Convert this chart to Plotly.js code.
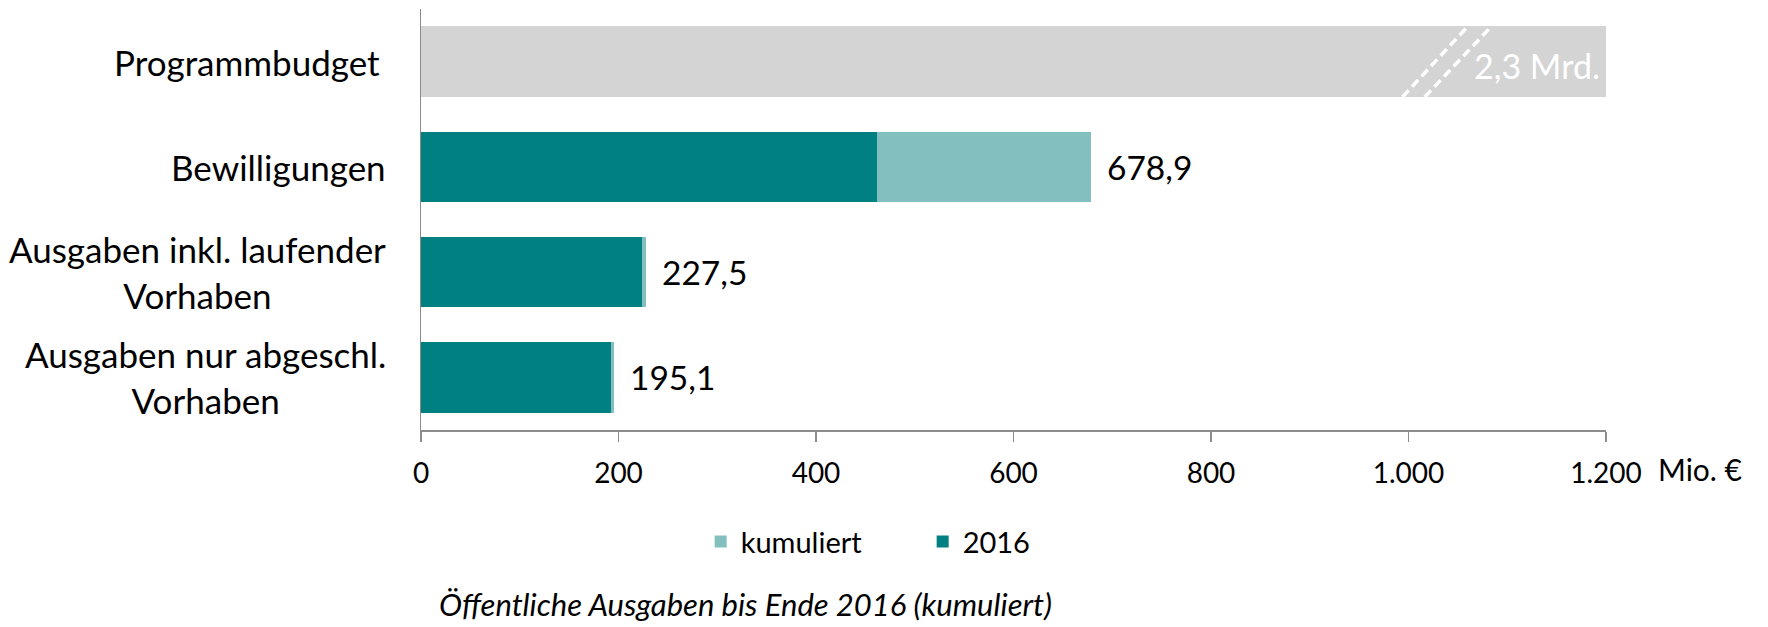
<!DOCTYPE html>
<html><head><meta charset="utf-8">
<script src="https://cdn.plot.ly/plotly-3.0.1.min.js"></script>
<style>html,body{margin:0;padding:0;background:#fff;} #chart{width:1768px;height:627px;}</style>
</head><body><div id="chart"></div>
<script>
// ---- data (Mio. €) ----
const categories = ["Programmbudget", "Bewilligungen", "Ausgaben inkl. laufender<br>Vorhaben", "Ausgaben nur abgeschl.<br>Vorhaben"];
const budget = [2300, null, null, null];
const values2016 = [null, 461.9, 223.7, 192.2];
const valuesKumuliert = [null, 217.0, 3.8, 2.9];
const totals = [null, 678.9, 227.5, 195.1];
const tickValues = [0, 200, 400, 600, 800, 1000, 1200];
const axisUnit = "Mio. €";
const footnote = "Öffentliche Ausgaben bis Ende 2016 (kumuliert)";
const breakMarks = [[994, 1060], [1016.5, 1084]];

const FONT = "Lato, 'Open Sans', sans-serif";
const AXIS = "#8c8c8c";
const fmt = v => v.toFixed(1).replace('.', ',');

const traces = [
  {type: 'bar', orientation: 'h', x: budget, y: categories, marker: {color: '#d4d4d4'},
   showlegend: false, hoverinfo: 'skip', name: 'Programmbudget'},
  {type: 'bar', orientation: 'h', x: values2016, y: categories, marker: {color: '#008080'}, name: '2016'},
  {type: 'bar', orientation: 'h', x: valuesKumuliert, y: categories, marker: {color: '#83bfbf'}, name: 'kumuliert'}
];

const annotations = [];
categories.forEach((c, i) => {
  annotations.push({xref: 'paper', x: 0, xanchor: 'right', xshift: i === 0 ? -39 : -33,
    yref: 'y', y: c, yanchor: 'middle', align: 'center', showarrow: false,
    text: c, font: {family: FONT, size: 35, color: '#000'}});
  if (totals[i] != null) {
    annotations.push({xref: 'x', x: totals[i], xanchor: 'left', xshift: 14,
      yref: 'y', y: c, yanchor: 'middle', showarrow: false,
      text: fmt(totals[i]), font: {family: FONT, size: 33.5, color: '#000'}});
  }
});
annotations.push({xref: 'x', x: tickValues[tickValues.length - 1], xanchor: 'right', xshift: -4,
  yref: 'y', y: categories[0], yanchor: 'middle', yshift: -4, showarrow: false,
  text: fmt(budget[0] / 1000) + ' Mrd.', font: {family: FONT, size: 34, color: '#ffffff'}});
annotations.push({xref: 'paper', x: 1, xanchor: 'left', xshift: 50,
  yref: 'paper', y: -0.092, yanchor: 'middle', showarrow: false,
  text: axisUnit, font: {family: FONT, size: 30, color: '#000'}});
annotations.push({xref: 'paper', x: 0.274, xanchor: 'center',
  yref: 'paper', y: -0.4133, yanchor: 'middle', showarrow: false,
  text: '<i>' + footnote + '</i>', font: {family: FONT, size: 31, color: '#000'}});

const halfBar = 0.335;
const shapes = breakMarks.map(b => ({type: 'line', xref: 'x', yref: 'y',
  x0: b[0], y0: halfBar, x1: b[1], y1: -halfBar,
  line: {color: '#ffffff', width: 3.5, dash: '9px,5px'}}));

const layout = {
  width: 1768, height: 627,
  margin: {l: 421, r: 162, t: 9, b: 197, pad: 0},
  paper_bgcolor: '#fff', plot_bgcolor: '#fff',
  barmode: 'stack', bargap: 0.33,
  separators: ',.',
  font: {family: FONT, color: '#000'},
  xaxis: {range: [0, 1200], tickvals: tickValues, tickformat: ',.0f',
    showgrid: false, zeroline: false, showline: true, linecolor: AXIS, linewidth: 1.5,
    ticks: 'outside', ticklen: 10, tickwidth: 1.5, tickcolor: AXIS, ticklabelstandoff: 8,
    tickfont: {family: FONT, size: 28, color: '#000'}, fixedrange: true},
  yaxis: {type: 'category', autorange: 'reversed', showticklabels: false, showgrid: false,
    zeroline: false, showline: true, linecolor: AXIS, linewidth: 1.5, ticks: '', fixedrange: true},
  showlegend: true,
  legend: {orientation: 'h', traceorder: 'reversed', x: 0.236, xanchor: 'left',
    y: -0.265, yanchor: 'middle', entrywidth: 177, entrywidthmode: 'pixels',
    font: {family: FONT, size: 29, color: '#000'}, bgcolor: 'rgba(0,0,0,0)'},
  annotations: annotations,
  shapes: shapes
};

Plotly.newPlot('chart', traces, layout, {displayModeBar: false, staticPlot: true});
</script></body></html>
